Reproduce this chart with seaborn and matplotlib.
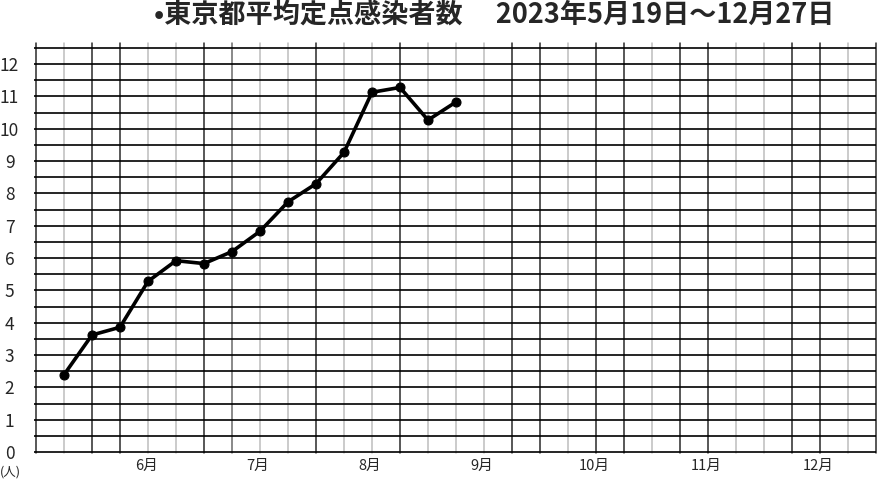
import numpy as np
import pandas as pd
import seaborn as sns
import matplotlib.pyplot as plt

# -------------- data ---------------
week_no = [1, 2, 3, 4, 5, 6, 7, 8, 9, 10, 11, 12, 13, 14, 15]
per_site = [2.39, 3.62, 3.86, 5.28, 5.92, 5.83, 6.20, 6.83, 7.74, 8.30,
            9.27, 11.13, 11.28, 10.27, 10.83]

month_labels = ["6月", "7月", "8月", "9月", "10月", "11月", "12月"]
month_weeks = [4, 8, 12, 16, 20, 24, 28]
y_ticks = list(range(0, 13))

title = "•東京都平均定点感染者数　 2023年5月19日～12月27日"

# weekly grid lines: printed form, some dark, some faint
N_WEEKS = 30
grid_shade = "dldd lldm lldl ldll lddl ddld dlld dld"  # d=dark, l=light, m=mid
grid_shade = grid_shade.replace(" ", "")
SHADE = {"d": "#2a2a2a", "m": "#6a6a6a", "l": "#bdbdbd"}

sns.set_theme(style="white")
plt.rcParams["font.family"] = ["Noto Sans CJK JP", "DejaVu Sans"]

df = pd.DataFrame({"week": week_no, "value": per_site})

fig = plt.figure(figsize=(8.8, 4.82), dpi=100)
ax = fig.add_axes([36 / 880, 29 / 482, 840 / 880, 410 / 482])

# grid
for k in range(N_WEEKS + 1):
    ax.axvline(k, color=SHADE[grid_shade[k]], lw=1.1, zorder=1, clip_on=False)
ax.hlines(np.arange(0, 12.51, 0.5), -0.08, N_WEEKS, color="black",
          lw=1.2, zorder=1, clip_on=False)

sns.lineplot(data=df, x="week", y="value", ax=ax, color="black",
             linewidth=2.6, marker="o", markersize=6.5,
             markeredgecolor="black", zorder=3)

ax.set_xlim(0, N_WEEKS)
ax.set_ylim(-0.031, 12.655)
for s in ax.spines.values():
    s.set_visible(False)

ax.set_yticks(y_ticks)
ax.set_yticklabels([str(v) for v in y_ticks], fontsize=12.5, ha="center")
ax.tick_params(axis="y", length=0, pad=19)
ax.set_xticks([w - 0.07 for w in month_weeks])
ax.set_xticklabels(month_labels, fontsize=10.5)
ax.tick_params(axis="x", length=0, pad=4)
ax.set_xlabel("")
ax.set_ylabel("")

fig.text(0 / 880, 1 - 472 / 482, "(人)", fontsize=9, ha="left", va="center")
fig.text(494 / 880, 1 - 15 / 482, title, fontsize=19.5, fontweight="bold",
         ha="center", va="center")

fig.savefig("out.png", dpi=100)
